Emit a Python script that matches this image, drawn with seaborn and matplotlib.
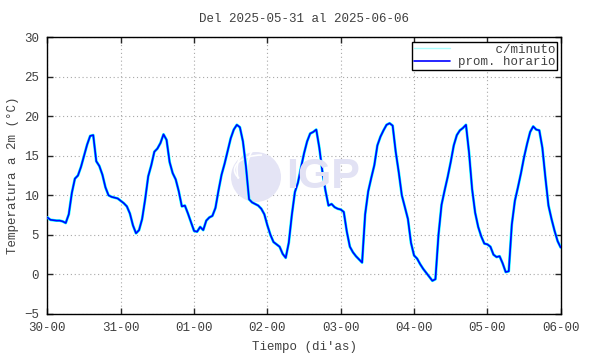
import pandas as pd
import seaborn as sns
import matplotlib.pyplot as plt
import matplotlib.dates as mdates
from matplotlib.patches import Circle, Arc
from matplotlib.lines import Line2D

# hourly means (00h..23h) for each day
may30 = [7.2, 6.9, 6.85, 6.8, 6.8, 6.7, 6.5, 7.6, 10.3, 12.1, 12.5, 13.6,
         15.0, 16.4, 17.5, 17.6, 14.3, 13.7, 12.6, 11.0, 10.0, 9.8, 9.7, 9.6]
may31 = [9.3, 9.0, 8.6, 7.7, 6.2, 5.2, 5.6, 7.0, 9.5, 12.4, 13.8, 15.5,
         15.9, 16.6, 17.7, 17.0, 14.2, 12.8, 12.0, 10.5, 8.6, 8.7, 7.7, 6.6]
jun01 = [5.5, 5.4, 6.0, 5.6, 6.8, 7.2, 7.4, 8.4, 10.6, 12.6, 14.0, 15.6,
         17.2, 18.3, 18.9, 18.6, 16.8, 13.6, 9.5, 9.1, 8.9, 8.7, 8.3, 7.6]
jun02 = [6.2, 5.0, 4.1, 3.8, 3.5, 2.6, 2.1, 4.0, 7.5, 10.4, 11.6, 13.5,
         15.3, 16.8, 17.8, 18.0, 18.3, 16.0, 13.0, 10.6, 8.7, 8.9, 8.5, 8.3]
jun03 = [8.2, 7.9, 5.4, 3.5, 2.8, 2.3, 1.9, 1.5, 7.6, 10.5, 12.2, 13.8,
         16.3, 17.4, 18.2, 18.9, 19.1, 18.8, 15.5, 12.9, 10.0, 8.5, 7.0, 4.0]
jun04 = [2.4, 2.0, 1.3, 0.7, 0.2, -0.3, -0.8, -0.6, 5.0, 8.8, 10.6, 12.3,
         14.2, 16.3, 17.6, 18.2, 18.5, 18.9, 15.4, 10.8, 7.8, 6.0, 4.8, 3.9]
jun05 = [3.8, 3.5, 2.5, 2.2, 2.3, 1.4, 0.3, 0.4, 6.3, 9.3, 11.0, 12.8,
         14.8, 16.5, 18.0, 18.7, 18.3, 18.2, 16.0, 12.2, 8.7, 7.0, 5.5, 4.2]
jun06 = [3.4]

temps = may30 + may31 + jun01 + jun02 + jun03 + jun04 + jun05 + jun06
times = pd.date_range("2025-05-30 00:00", periods=len(temps), freq="h")
df = pd.DataFrame({"tiempo": times, "temp": temps})

sns.set_style("ticks")
plt.rcParams["font.family"] = ["Liberation Mono", "DejaVu Sans Mono"]
txt = "#404040"

fig = plt.figure(figsize=(5.9, 3.54), dpi=100)
ax = fig.add_axes([47.4 / 590, 1 - 314 / 354, 513.3 / 590, 277 / 354])

# watermark logo
logo = Circle((2.56, 3.54 - 1.77), 0.25, transform=fig.dpi_scale_trans,
              facecolor="#e4e4f5", edgecolor="none", zorder=1.5)
ax.add_patch(logo)
for w, h in [(0.55, 0.30), (0.50, 0.55), (0.30, 0.50)]:
    ax.add_patch(Arc((2.62, 3.54 - 1.70), w, h, theta1=90, theta2=200,
                     transform=fig.dpi_scale_trans, color="white", lw=1.2,
                     zorder=1.6))
fig.text(3.23 / 5.9, 1 - 1.77 / 3.54, "IGP", family="Liberation Sans",
         weight="bold", fontsize=31, color="#e2e2f4", ha="center",
         va="center", zorder=0.5)
ax.patch.set_alpha(0)

sns.lineplot(data=df, x="tiempo", y="temp", color="#00ffff", lw=2.0,
             ax=ax, zorder=3)
sns.lineplot(data=df, x="tiempo", y="temp", color="#0000ff", lw=1.2,
             ax=ax, zorder=4)

ax.set_xlim(times[0], times[-1])
ax.set_ylim(-5, 30)
ax.set_yticks(range(-5, 31, 5))
ax.xaxis.set_major_locator(mdates.DayLocator())
ax.xaxis.set_major_formatter(mdates.DateFormatter("%d-%H"))
ax.grid(True, color="#a8a8a8", ls=(0, (1, 2.5)), lw=0.8)
ax.tick_params(direction="in", length=4, width=1, top=True, right=True,
               labelsize=9, labelcolor=txt, pad=6)
for s in ax.spines.values():
    s.set_color("black")
    s.set_linewidth(1)

ax.set_xlabel("Tiempo (di'as)", fontsize=9, color=txt, labelpad=5)
ax.set_ylabel("Temperatura a 2m (°C)", fontsize=9, color=txt, labelpad=4)
ax.set_title("Del 2025-05-31 al 2025-06-06", fontsize=9, color=txt, pad=11)

handles = [Line2D([], [], color="#aaffff", lw=1),
           Line2D([], [], color="#0000ff", lw=1.2)]
leg = ax.legend(handles, ["     c/minuto", "prom. horario"], loc="upper right",
                bbox_to_anchor=(0.993, 0.982), borderaxespad=0, fontsize=9,
                handlelength=2.9, labelspacing=0.05, borderpad=0.15,
                handletextpad=0.6, fancybox=False, framealpha=1,
                edgecolor="black")
leg.get_frame().set_linewidth(1)
for t in leg.get_texts():
    t.set_color(txt)

fig.savefig("out.png", dpi=100)
